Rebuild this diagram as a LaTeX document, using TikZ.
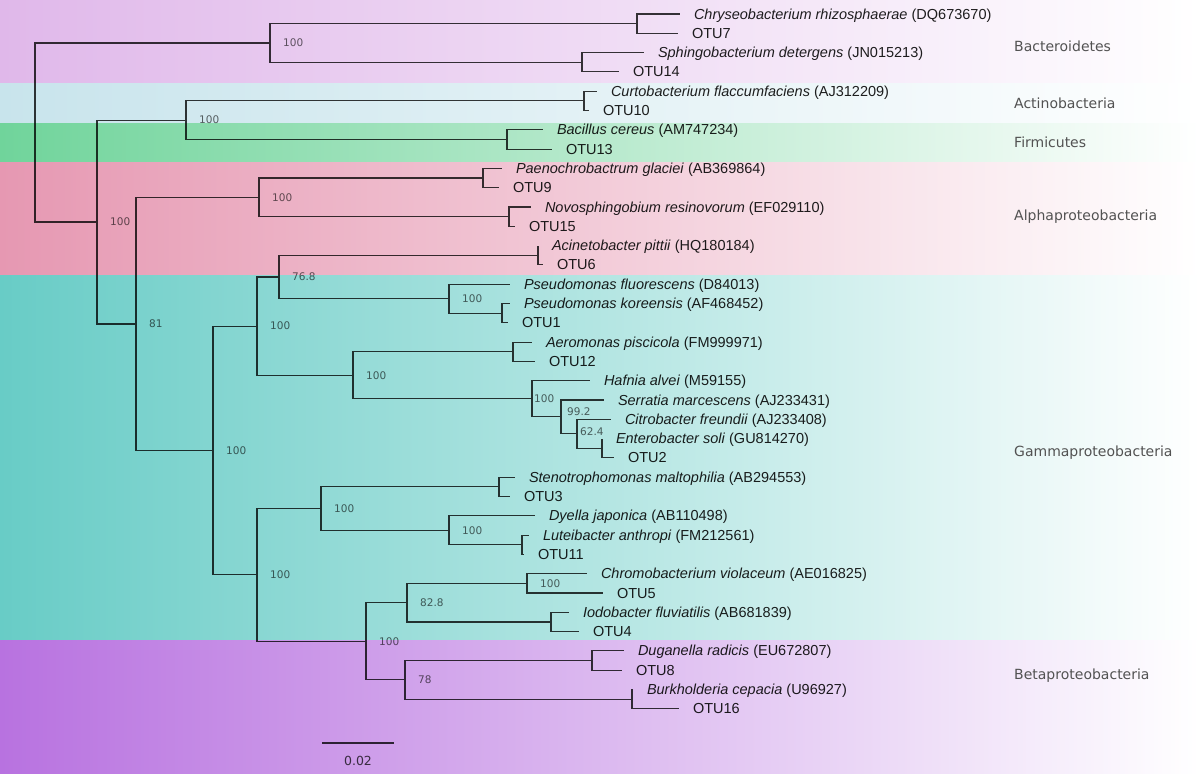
\documentclass[tikz,border=0pt]{standalone}
\usepackage{fontspec}
\setmainfont{Liberation Sans}
\newfontfamily\dejavu{DejaVu Sans}
\usetikzlibrary{positioning}

\definecolor{bandBact}{RGB}{224,184,234}
\definecolor{bandActino}{RGB}{200,228,236}
\definecolor{bandFirm}{RGB}{112,212,155}
\definecolor{bandAlpha}{RGB}{230,152,178}
\definecolor{bandGamma}{RGB}{104,204,198}
\definecolor{bandBeta}{RGB}{184,114,224}

\newcommand{\taxon}[2]{\textit{#1} (#2)}

\begin{document}
\begin{tikzpicture}[x=1pt, y=-1pt,
    branch/.style={draw=black, draw opacity=0.78, line width=1.15pt},
    leaf/.style={anchor=west, inner sep=0pt, outer xsep=14pt, text height=10pt,
      text depth=0pt, text opacity=0.88, font=\fontsize{14.5}{16}\selectfont},
    boot/.style={inner sep=0pt, text opacity=0.6, font=\dejavu\fontsize{10.5}{12}\selectfont},
    clade/.style={anchor=west, inner sep=0pt, text height=10pt, text depth=0pt,
      text=black!68, font=\dejavu\fontsize{14}{16}\selectfont}
  ]
  \useasboundingbox (0,0) rectangle (1200,774);
  \foreach \c/\ya/\yb in {bandBact/0/83, bandActino/83/123, bandFirm/123/162,
      bandAlpha/162/275, bandGamma/275/640, bandBeta/640/774}
    \fill[left color=\c, right color=white] (0,\ya) rectangle (1200,\yb);

  \node[clade] (bact)  at (1014,46)  {Bacteroidetes};
  \node[clade] (actino) at (1014,103) {Actinobacteria};
  \node[clade] (firm)  at (1014,142) {Firmicutes};
  \node[clade] (alpha) at (1014,215) {Alphaproteobacteria};
  \node[clade] (gamma) at (1014,451) {Gammaproteobacteria};
  \node[clade] (beta)  at (1014,674) {Betaproteobacteria};

  % leaves, 19.3 apart
  \foreach \tx/\lab [count=\i] in {
      680/{\taxon{Chryseobacterium rhizosphaerae}{DQ673670}},
      678/{OTU7},
      644/{\taxon{Sphingobacterium detergens}{JN015213}},
      619/{OTU14},
      597/{\taxon{Curtobacterium flaccumfaciens}{AJ312209}},
      589/{OTU10},
      543/{\taxon{Bacillus cereus}{AM747234}},
      552/{OTU13},
      502/{\taxon{Paenochrobactrum glaciei}{AB369864}},
      499/{OTU9},
      531/{\taxon{Novosphingobium resinovorum}{EF029110}},
      515/{OTU15},
      538/{\taxon{Acinetobacter pittii}{HQ180184}},
      543/{OTU6},
      510/{\taxon{Pseudomonas fluorescens}{D84013}},
      510/{\taxon{Pseudomonas koreensis}{AF468452}},
      508/{OTU1},
      532/{\taxon{Aeromonas piscicola}{FM999971}},
      535/{OTU12},
      590/{\taxon{Hafnia alvei}{M59155}},
      604/{\taxon{Serratia marcescens}{AJ233431}},
      611/{\taxon{Citrobacter freundii}{AJ233408}},
      602/{\taxon{Enterobacter soli}{GU814270}},
      614/{OTU2},
      515/{\taxon{Stenotrophomonas maltophilia}{AB294553}},
      510/{OTU3},
      535/{\taxon{Dyella japonica}{AB110498}},
      529/{\taxon{Luteibacter anthropi}{FM212561}},
      524/{OTU11},
      587/{\taxon{Chromobacterium violaceum}{AE016825}},
      603/{OTU5},
      569/{\taxon{Iodobacter fluviatilis}{AB681839}},
      579/{OTU4},
      624/{\taxon{Duganella radicis}{EU672807}},
      622/{OTU8},
      633/{\taxon{Burkholderia cepacia}{U96927}},
      679/{OTU16}}
    \node[leaf] (l\i) at (\tx,{14+19.3*(\i-1)}) {\lab};

  % inner nodes
  \coordinate (a1) at (637,23.65);
  \coordinate (a2) at (582,62.25);
  \coordinate (a3) at (270,42.95);
  \coordinate (b1) at (584,100.85);
  \coordinate (b2) at (507,139.45);
  \coordinate (b3) at (186,120.15);
  \coordinate (c1) at (483,178.05);
  \coordinate (c2) at (509,216.65);
  \coordinate (c3) at (259,197.35);
  \coordinate (g1) at (538,255.25);
  \coordinate (g2) at (502,313.15);
  \coordinate (g3) at (449,298.68);
  \coordinate (g4) at (279,276.96);
  \coordinate (g5) at (513,351.75);
  \coordinate (g6) at (602,448.25);
  \coordinate (g7) at (577,433.78);
  \coordinate (g8) at (561,416.89);
  \coordinate (g9) at (532,398.8);
  \coordinate (g10) at (353,375.27);
  \coordinate (g11) at (257,326.12);
  \coordinate (h1) at (499,486.85);
  \coordinate (h2) at (522,544.75);
  \coordinate (h3) at (449,530.28);
  \coordinate (h4) at (321,508.56);
  \coordinate (k1) at (527,583.35);
  \coordinate (k2) at (551,621.95);
  \coordinate (k3) at (407,602.65);
  \coordinate (k4) at (592,660.55);
  \coordinate (k5) at (632,699.15);
  \coordinate (k6) at (405,679.85);
  \coordinate (k7) at (366,641.25);
  \coordinate (h5) at (257,574.9);
  \coordinate (m1) at (213,450.51);
  \coordinate (m2) at (136,323.93);
  \coordinate (m3) at (97,222.04);
  \coordinate (root) at (35,132.5);

  \draw[branch] \foreach \p/\c in {a1/l1, a1/l2, a2/l3, a2/l4, a3/a1, a3/a2,
      b1/l5, b1/l6, b2/l7, b2/l8, b3/b1, b3/b2,
      c1/l9, c1/l10, c2/l11, c2/l12, c3/c1, c3/c2,
      g1/l13, g1/l14, g2/l16, g2/l17, g3/l15, g3/g2, g4/g1, g4/g3,
      g5/l18, g5/l19, g6/l23, g6/l24, g7/l22, g7/g6, g8/l21, g8/g7,
      g9/l20, g9/g8, g10/g5, g10/g9, g11/g4, g11/g10,
      h1/l25, h1/l26, h2/l28, h2/l29, h3/l27, h3/h2, h4/h1, h4/h3,
      k1/l30, k1/l31, k2/l32, k2/l33, k3/k1, k3/k2, k4/l34, k4/l35,
      k5/l36, k5/l37, k6/k4, k6/k5, k7/k3, k7/k6, h5/h4, h5/k7,
      m1/g11, m1/h5, m2/c3, m2/m1, m3/b3, m3/m2, root/a3, root/m3}
    {(\p) |- (\c)};

  % bootstrap values
  \foreach \n/\v in {a3/100, b3/100, c3/100, g4/76.8, g3/100, g11/100, g10/100,
      m3/100, m2/81, m1/100, h4/100, h3/100, h5/100, k1/100, k3/82.8,
      k7/100, k6/78}
    \node[boot, right=13pt of \n] (s-\n) {\v};
  \node[boot, right=2pt of g9] (s-g9) {100};
  \node[boot, right=6pt of g8, yshift=5pt] (s-g8) {99.2};
  \node[boot, right=3pt of g7, yshift=2pt] (s-g7) {62.4};

  % scale bar
  \coordinate (sb1) at (322,743);
  \coordinate (sb2) at (394,743);
  \draw[branch] (sb1) -- node[boot, below=13pt, text opacity=0.72,
    font=\dejavu\fontsize{12.5}{14}\selectfont] (sblab) {0.02} (sb2);
\end{tikzpicture}
\end{document}
